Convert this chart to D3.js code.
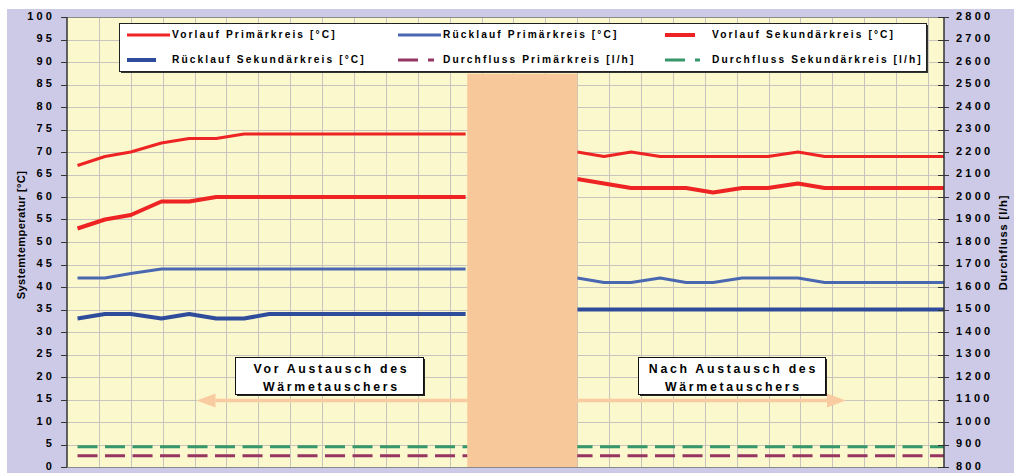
<!DOCTYPE html>
<html>
<head>
<meta charset="utf-8">
<script src="https://cdn.jsdelivr.net/npm/d3@7"></script>
<style>
  html, body { margin: 0; padding: 0; background: #ffffff; }
  svg { display: block; font-family: "Liberation Sans", Arial, sans-serif; font-weight: bold; }
</style>
</head>
<body>
<svg id="chart" width="1014" height="473"></svg>
<script>
// Messzeitpunkte (x-Achse, ohne Beschriftung) vor und nach dem Austausch
const zeitVor  = [0.33, 1.19, 2.0, 2.96, 3.83, 4.68, 5.55, 6.34, 12.5];
const zeitNach = [16.0, 16.84, 17.69, 18.6, 19.41, 20.26, 21.17, 21.98, 22.92, 23.76, 27.5];

// Temperaturen [°C]
const vorlaufPrimaerVor       = [67, 69, 70, 72, 73, 73, 74, 74, 74];
const ruecklaufPrimaerVor     = [42, 42, 43, 44, 44, 44, 44, 44, 44];
const vorlaufSekundaerVor     = [53, 55, 56, 59, 59, 60, 60, 60, 60];
const ruecklaufSekundaerVor   = [33, 34, 34, 33, 34, 33, 33, 34, 34];

const vorlaufPrimaerNach      = [70, 69, 70, 69, 69, 69, 69, 69, 70, 69, 69];
const ruecklaufPrimaerNach    = [42, 41, 41, 42, 41, 41, 42, 42, 42, 41, 41];
const vorlaufSekundaerNach    = [64, 63, 62, 62, 62, 61, 62, 62, 63, 62, 62];
const ruecklaufSekundaerNach  = [35, 35, 35, 35, 35, 35, 35, 35, 35, 35, 35];

// Durchfluss [l/h]
const durchflussPrimaerVor    = [850, 850, 850, 850, 850, 850, 850, 850, 850];
const durchflussSekundaerVor  = [890, 890, 890, 890, 890, 890, 890, 890, 890];
const durchflussPrimaerNach   = [850, 850, 850, 850, 850, 850, 850, 850, 850, 850, 850];
const durchflussSekundaerNach = [890, 890, 890, 890, 890, 890, 890, 890, 890, 890, 890];

// Achsen
const tempTicks = d3.range(0, 101, 5);
const flowTicks = d3.range(800, 2801, 100);
const xGrid = d3.range(0, 28, 1);

// Zeitraum des Austauschs (verdeckter Bereich) und Hinweispfeile
const austauschBereich = [12.55, 16.0];
const austauschOben = 87.4;
const pfeilHoehe = 14.8;

const legendTexte = [
  "Vorlauf Primärkreis [°C]", "Rücklauf Primärkreis [°C]", "Vorlauf Sekundärkreis [°C]",
  "Rücklauf Sekundärkreis [°C]", "Durchfluss Primärkreis [l/h]", "Durchfluss Sekundärkreis [l/h]"
];

const W = 1014, H = 473;
const plot = { left: 67, right: 944, top: 17, bottom: 467 };

const svg = d3.select("#chart");

// Diagrammfläche
svg.append("rect").attr("x", 7).attr("y", 9).attr("width", W - 7).attr("height", H - 9)
  .attr("fill", "#CCCAE6");
svg.append("rect").attr("x", plot.left).attr("y", plot.top)
  .attr("width", plot.right - plot.left).attr("height", plot.bottom - plot.top)
  .attr("fill", "#FBF8CD");

const x = d3.scaleLinear().domain([0, 27.5]).range([plot.left, plot.right]);
const y = d3.scaleLinear().domain([0, 100]).range([plot.bottom, plot.top]);
const y2 = d3.scaleLinear().domain([800, 2800]).range([plot.bottom, plot.top]);

// Gitternetz
const grid = svg.append("g").attr("stroke", "#C6C4BC").attr("stroke-width", 1);
grid.selectAll("line.h").data(tempTicks.slice(1)).join("line")
  .attr("x1", plot.left).attr("x2", plot.right)
  .attr("y1", d => Math.round(y(d)) + 0.5).attr("y2", d => Math.round(y(d)) + 0.5);
grid.selectAll("line.v").data(xGrid.slice(1)).join("line")
  .attr("y1", plot.top).attr("y2", plot.bottom)
  .attr("x1", d => Math.round(x(d)) + 0.5).attr("x2", d => Math.round(x(d)) + 0.5);

// Rahmen oben/unten
svg.append("line").attr("x1", plot.left).attr("x2", plot.right)
  .attr("y1", plot.top + 0.5).attr("y2", plot.top + 0.5).attr("stroke", "#8A8A8A");
svg.append("line").attr("x1", plot.left).attr("x2", plot.right)
  .attr("y1", plot.bottom + 0.5).attr("y2", plot.bottom + 0.5).attr("stroke", "#8A8A8A");

// Hinweispfeile
const pfeilFarbe = "#F9CBA0";
const py = y(pfeilHoehe);
function pfeil(x0, x1, dir) {
  const head = 19, half = 7;
  const base = x1 - dir * head;
  svg.append("line").attr("x1", x0).attr("x2", base).attr("y1", py).attr("y2", py)
    .attr("stroke", pfeilFarbe).attr("stroke-width", 3.5);
  svg.append("path")
    .attr("d", `M${x1},${py} L${base},${py - half} L${base},${py + half} Z`)
    .attr("fill", pfeilFarbe);
}
pfeil(x(austauschBereich[0]) + 2, 196.5, -1);
pfeil(x(austauschBereich[1]) - 2, 846, 1);

svg.append("clipPath").attr("id", "plotclip").append("rect")
  .attr("x", plot.left).attr("y", plot.top)
  .attr("width", plot.right - plot.left).attr("height", plot.bottom - plot.top);

const series = [
  { vor: vorlaufPrimaerVor, nach: vorlaufPrimaerNach, axis: y, color: "#EE2323", width: 3, dash: null, gap: true },
  { vor: ruecklaufPrimaerVor, nach: ruecklaufPrimaerNach, axis: y, color: "#4A68B2", width: 3, dash: null, gap: true },
  { vor: vorlaufSekundaerVor, nach: vorlaufSekundaerNach, axis: y, color: "#EE2323", width: 4, dash: null, gap: true },
  { vor: ruecklaufSekundaerVor, nach: ruecklaufSekundaerNach, axis: y, color: "#2F4C9C", width: 4, dash: null, gap: true },
  { vor: durchflussPrimaerVor, nach: durchflussPrimaerNach, axis: y2, color: "#963462", width: 3, dash: "20,7.5", gap: false },
  { vor: durchflussSekundaerVor, nach: durchflussSekundaerNach, axis: y2, color: "#35976A", width: 3, dash: "20,7.5", gap: false }
];

const lines = svg.append("g").attr("clip-path", "url(#plotclip)");
series.forEach(s => {
  const pts = zeitVor.map((t, i) => ({ t, v: s.vor[i], ok: true }));
  if (s.gap) pts.push({ t: null, v: null, ok: false });
  zeitNach.forEach((t, i) => pts.push({ t, v: s.nach[i], ok: true }));
  const gen = d3.line().defined(d => d.ok).x(d => x(d.t)).y(d => s.axis(d.v));
  lines.append("path").attr("d", gen(pts))
    .attr("fill", "none").attr("stroke", s.color).attr("stroke-width", s.width)
    .attr("stroke-linejoin", "round")
    .attr("stroke-dasharray", s.dash);
});

// Austauschzeitraum
svg.append("rect")
  .attr("x", x(austauschBereich[0])).attr("width", x(austauschBereich[1]) - x(austauschBereich[0]))
  .attr("y", y(austauschOben)).attr("height", y(0) - y(austauschOben))
  .attr("fill", "#F7C99A");

// Textfelder
function textBox(cx, x0, x1, y0, y1, zeilen) {
  svg.append("rect").attr("x", x0 + 2).attr("y", y0 + 2).attr("width", x1 - x0).attr("height", y1 - y0)
    .attr("fill", "#222");
  svg.append("rect").attr("x", x0 + 0.5).attr("y", y0 + 0.5).attr("width", x1 - x0).attr("height", y1 - y0)
    .attr("fill", "#fff").attr("stroke", "#111").attr("stroke-width", 1);
  zeilen.forEach((z, i) => {
    svg.append("text").attr("x", cx + 1.4).attr("y", y0 + 13 + i * 17.5)
      .attr("text-anchor", "middle").attr("dominant-baseline", "middle")
      .attr("font-size", 12.3).attr("letter-spacing", 2.7).attr("fill", "#000")
      .text(z);
  });
}
textBox(330, 235, 423, 357, 394, ["Vor Austausch des", "Wärmetauschers"]);
textBox(732, 638, 825, 357, 394, ["Nach Austausch des", "Wärmetauschers"]);

// Legende
svg.append("rect").attr("x", 121).attr("y", 25).attr("width", 807).attr("height", 48).attr("fill", "#333");
svg.append("rect").attr("x", 119.5).attr("y", 23.5).attr("width", 807).attr("height", 48)
  .attr("fill", "#fff").attr("stroke", "#222");
const legKeyX = [127, 398, 665];
const legTextX = [172, 443, 712];
const legRowY = [35, 60];
const legKeyLen = [43, 43, 30, 29, 36, 35];
series.forEach((s, i) => {
  const col = i % 3, row = Math.floor(i / 3);
  const ly = legRowY[row];
  svg.append("line").attr("x1", legKeyX[col]).attr("x2", legKeyX[col] + legKeyLen[i])
    .attr("y1", ly).attr("y2", ly)
    .attr("stroke", s.color).attr("stroke-width", s.width)
    .attr("stroke-dasharray", s.dash ? "20,10" : null);
  svg.append("text").attr("x", legTextX[col]).attr("y", ly)
    .attr("dominant-baseline", "middle").attr("font-size", 10.2).attr("letter-spacing", 2.1)
    .attr("fill", "#000").text(legendTexte[i]);
});

// Linke Achse
const axL = svg.append("g");
axL.append("line").attr("x1", plot.left).attr("x2", plot.left).attr("y1", plot.top).attr("y2", plot.bottom)
  .attr("stroke", "#333").attr("stroke-width", 1.5);
axL.selectAll("line.t").data(tempTicks).join("line")
  .attr("x1", plot.left - 6).attr("x2", plot.left)
  .attr("y1", d => Math.round(y(d)) + 0.5).attr("y2", d => Math.round(y(d)) + 0.5)
  .attr("stroke", "#333");
axL.selectAll("text").data(tempTicks).join("text")
  .attr("x", 55.2).attr("y", d => y(d)).attr("text-anchor", "end").attr("dominant-baseline", "middle")
  .attr("font-size", 11).attr("letter-spacing", 3.2).attr("fill", "#000")
  .text(d => d);

// Rechte Achse
const axR = svg.append("g");
axR.append("line").attr("x1", plot.right).attr("x2", plot.right).attr("y1", plot.top).attr("y2", plot.bottom)
  .attr("stroke", "#333").attr("stroke-width", 1.5);
axR.selectAll("line.t").data(flowTicks).join("line")
  .attr("x1", plot.right - 6).attr("x2", plot.right + 5)
  .attr("y1", d => Math.round(y2(d)) + 0.5).attr("y2", d => Math.round(y2(d)) + 0.5)
  .attr("stroke", "#333");
axR.selectAll("text").data(flowTicks).join("text")
  .attr("x", 956).attr("y", d => y2(d)).attr("dominant-baseline", "middle")
  .attr("font-size", 11).attr("letter-spacing", 3.2).attr("fill", "#000")
  .text(d => d);

// Achsentitel
svg.append("text").attr("transform", "translate(22.5,235) rotate(-90)")
  .attr("text-anchor", "middle").attr("dominant-baseline", "middle")
  .attr("font-size", 11.2).attr("letter-spacing", 0.35).attr("fill", "#000")
  .text("Systemtemperatur [°C]");
svg.append("text").attr("transform", "translate(1004,242.5) rotate(-90)")
  .attr("text-anchor", "middle").attr("dominant-baseline", "middle")
  .attr("font-size", 11.2).attr("letter-spacing", 0.85).attr("fill", "#000")
  .text("Durchfluss [l/h]");
</script>
</body>
</html>
